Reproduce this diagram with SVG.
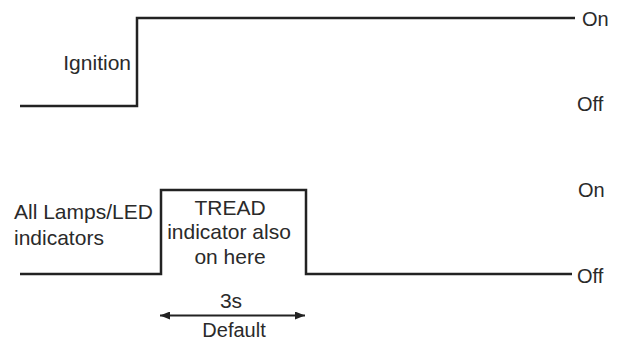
<svg xmlns="http://www.w3.org/2000/svg" width="617" height="342" viewBox="0 0 617 342">
<style>
.t{font-family:"Liberation Sans",Arial,sans-serif;font-size:21px;fill:#2a2a2a}
.s{font-size:20px}
.m{text-anchor:middle}
.e{text-anchor:end}
.w{fill:none;stroke:#222;stroke-width:2.5}
</style>
<defs>
<marker id="ah" viewBox="0 0 10 8" refX="10" refY="4" markerWidth="10" markerHeight="8" markerUnits="userSpaceOnUse" orient="auto-start-reverse">
<path d="M0,0 L10,4 L0,8 Z" fill="#222"/>
</marker>
</defs>
<rect width="617" height="342" fill="#fff"/>
<g id="connectors">
<path class="w" d="M20,106 H137 V18 H575"/>
<path class="w" d="M20,274 H161 V190 H306 V274 H572"/>
<line x1="160" y1="315.5" x2="305" y2="315.5" stroke="#222" stroke-width="2" marker-start="url(#ah)" marker-end="url(#ah)"/>
</g>
<g id="ignition-label"><text class="t e" x="131" y="70">Ignition</text></g>
<g id="ign-on"><text class="t s" x="582" y="26">On</text></g>
<g id="ign-off"><text class="t s" x="577" y="111">Off</text></g>
<g id="lamps-label"><text class="t" x="14" y="219">All Lamps/LED</text><text class="t" x="14" y="245">indicators</text></g>
<g id="tread-label"><text class="t m" x="230" y="215">TREAD</text><text class="t m" x="229" y="239">indicator also</text><text class="t m" x="230" y="264">on here</text></g>
<g id="lamp-on"><text class="t s" x="578" y="197">On</text></g>
<g id="lamp-off"><text class="t s" x="577" y="283">Off</text></g>
<g id="duration"><text class="t m" x="231" y="308">3s</text><text class="t m s" x="234" y="337">Default</text></g>
</svg>
